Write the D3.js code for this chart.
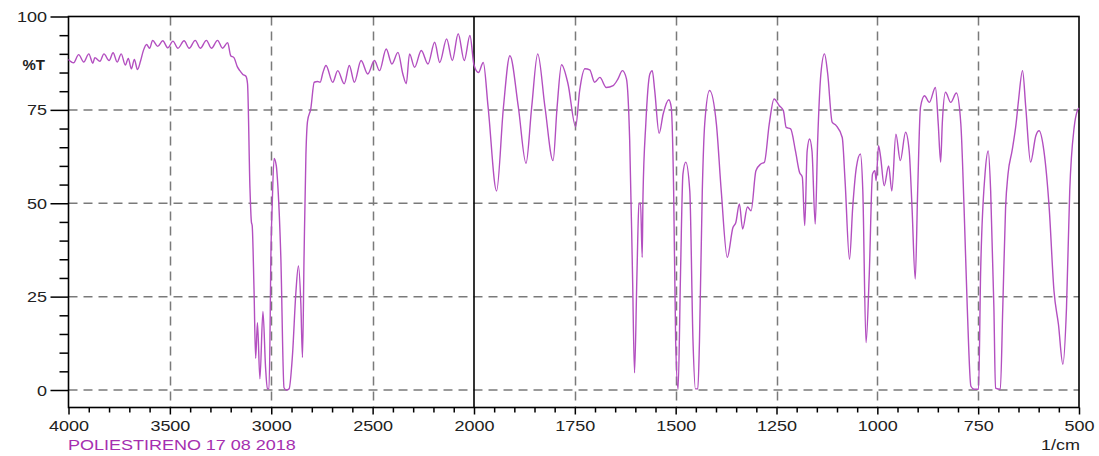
<!DOCTYPE html>
<html><head><meta charset="utf-8">
<script src="https://cdn.jsdelivr.net/npm/d3@7"></script>
<style>
html,body{margin:0;padding:0;background:#fff;}
svg{display:block;}
text{font-family:"Liberation Sans",Arial,sans-serif;}
</style></head><body>
<svg id="c" width="1099" height="456"></svg>
<script>
// wavenumber (1/cm), descending
const wavenumber = [
4000,3975,3950,3925,3900,3880,3870,3845,3825,3800,3780,3760,3740,3720,3705,3690,3675,3660,3645,3630,3615,3600,3585,3560,3535,3510,3485,3460,3430,3405,3375,3350,3320,3295,3265,3240,3215,3200,3184,3167,3155,3140,3125,3117,
3105,3098,3094,3085,3077,3068,3056,3041,3028,3019,3011,3005,3003,2995,2986,2975,2969,2953,2937,2925,2912,2895,2879,2866,2854,2846,2838,2829,2821,2805,2788,2771,2759,2745,2730,2697,2672,2640,2615,2590,2557,2524,2491,2466,2433,2405,2375,2351,2334,2318,2293,2260,2227,2194,2169,2135,2107,2078,2048,2020,2000,
1989,1977,1965,1944,1927,1911,1890,1871,1857,1842,1824,1804,1794,1783,1767,1748,1738,1725,1713,1701,1688,1672,1655,1643,1632,1622,1614,1607,1602,1596,1591,1587,1583,1581,1574,1564,1558,1552,1541,1531,1517,1511,1505,1500,1494,1488,1482,1475,1465,1457,1451,1445,1441,1434,1428,1416,1399,1387,1372,1358,1351,1342,1334,1322,1313,1301,1289,1280,1268,1256,1243,1233,1226,1215,1203,1193,1186,1180,1174,1168,1162,1154,1148,1140,1131,1123,1112,1102,1087,1080,1069,1061,1052,1042,1036,1028,1020,1012,1006,1003,997,992,983,972,964,954,943,930,921,914,906,900,893,883,871,856,849,843,839,831,818,804,793,785,777,768,760,749,744,733,725,719,711,707,695,689,682,676,666,656,650,640,632,620,607,599,587,574,562,551,540,531,523,512,504,500
];
// transmittance (%T)
const transmittance = [
88.5,87.6,89.8,87.8,90,87.5,89,88,90,88.2,90.3,87.8,90,87,88.8,86,88.5,85.8,88,91,92.5,91.5,93.6,92,93.5,91.6,93.4,91.5,93.5,91.5,93.6,91.5,93.6,91.5,93.6,91.5,93,89.5,89,86.5,85.5,84.5,84,82,
54,45,44,27,8.5,18,3,21,6,0.3,0.3,20,31,50,62,60,56,36,0.6,0,0.3,9.6,25.7,33.2,23,8.7,36.4,63,72,75.3,82.4,82.6,82.4,85,86.9,82.4,85.5,82,86.9,82.4,88.2,84.6,88.2,85.5,91.3,87.3,90.4,84.6,82,90,86.4,90.9,87.3,93.1,87.7,94,88.2,95.4,88.2,94.9,87,
85,87.7,75.7,53.3,75.7,89.5,75.7,60.7,75.7,90,75.7,61.4,75.7,87.1,82,70.5,80.2,86,85.7,82.4,83.7,81,81.5,83.3,85.5,83.3,66.8,31,4.6,31,49.8,50,35.5,52,71.3,84.6,85.5,80.2,68.7,73.9,77.7,75.7,53.3,13,0.2,31,57.8,61,53.3,13,0.3,0.3,13,53.3,71.2,80.2,71.2,53.3,35.5,43.5,44.8,49.8,43.1,49,48,58.7,60.5,61,71.2,77.9,76.1,74.8,70.3,69.9,64,58.3,57,44,64,67.2,64,44.4,66.5,84.6,90,84.6,71.7,70.8,67.6,56,35,49,59.6,63.2,53.3,12.7,31,57.8,58.7,56,65.4,62.5,54.7,60,53.3,68.5,61.4,69,64,48.9,29.7,53.3,75.7,78.8,77,81,71.3,61,71.3,79.7,77,79.5,71.3,48.9,22,1,0.2,0.2,31,57.8,64,53.3,22,0.5,0.2,22,48.9,57.8,64,71.3,77.5,85.5,75.7,61,68.1,69.4,64,48.9,26.5,17.6,6.9,22,53.3,70.3,74.8,75.5
];
const xMajorTicks = [4000,3500,3000,2500,2000,1750,1500,1250,1000,750,500];
const xGridTicks = [3500,3000,2500,1750,1500,1250,1000,750];
const yMajorTicks = [0,25,50,75,100];
const yGridTicks = [0,25,50,75];
const yAxisLabel = "%T";
const xAxisLabel = "1/cm";
const sampleLabel = "POLIESTIRENO 17 08 2018";

const L=68.5, R=1079, T=16.5, B=407.5;
const x = d3.scaleLinear().domain([4000,2000,500]).range([L,474,R]);
const y = d3.scaleLinear().domain([0,100]).range([390,T]);
const svg = d3.select("#c");
const SX = 1.2;

// grid
const grid = svg.append("g").attr("stroke","#7a7a7a").attr("stroke-width",1.5).attr("stroke-dasharray","9,6");
grid.selectAll("line.v").data(xGridTicks).join("line").attr("class","v")
  .attr("x1",d=>Math.round(x(d))+0.5).attr("x2",d=>Math.round(x(d))+0.5).attr("y1",T).attr("y2",B);
grid.selectAll("line.h").data(yGridTicks).join("line").attr("class","h")
  .attr("x1",L).attr("x2",R).attr("y1",d=>y(d)).attr("y2",d=>y(d));

// minor ticks
const xMinor = d3.range(3900,2000,-100).concat(d3.range(1950,500,-50)).filter(v=>!xMajorTicks.includes(v));
const yMinor = d3.range(5,100,5).filter(v=>!yMajorTicks.includes(v));

const xAxisMinor = svg.append("g").attr("transform",`translate(0,${B})`)
  .call(d3.axisBottom(x).tickValues(xMinor).tickSize(5).tickFormat(""));
xAxisMinor.select(".domain").remove();
const xAxis = svg.append("g").attr("transform",`translate(0,${B})`)
  .call(d3.axisBottom(x).tickValues(xMajorTicks).tickSize(7).tickFormat(d3.format("d")));
xAxis.select(".domain").remove();
xAxis.selectAll("text").attr("y",24).attr("dy",0).attr("font-size",15).attr("fill","#222")
  .attr("transform",`scale(${SX},1)`);
svg.selectAll(".tick line").attr("stroke","#000").attr("stroke-width",1.5);

const yAxisMinor = svg.append("g").attr("transform",`translate(${L},0)`)
  .call(d3.axisLeft(y).tickValues(yMinor).tickSize(9).tickFormat(""));
yAxisMinor.select(".domain").remove();
const yAxis = svg.append("g").attr("transform",`translate(${L},0)`)
  .call(d3.axisLeft(y).tickValues(yMajorTicks).tickSize(18).tickFormat(d3.format("d")));
yAxis.select(".domain").remove();
yAxis.selectAll("text").attr("x",-21.5/SX).attr("dy","0.34em").attr("font-size",15).attr("fill","#222")
  .attr("transform",`scale(${SX},1)`);
svg.selectAll(".tick line").attr("stroke","#000").attr("stroke-width",1.5);

// frame
svg.append("rect").attr("x",L).attr("y",T).attr("width",R-L).attr("height",B-T)
  .attr("fill","none").attr("stroke","#000").attr("stroke-width",1.6);
svg.append("line").attr("x1",x(2000)).attr("x2",x(2000)).attr("y1",T).attr("y2",B)
  .attr("stroke","#000").attr("stroke-width",1.6);

// spectrum
const pts = wavenumber.map((w,i)=>[w,transmittance[i]]);
const line = d3.line().x(d=>x(d[0])).y(d=>y(d[1])).curve(d3.curveMonotoneX);
svg.append("path").datum(pts).attr("d",line).attr("fill","none")
  .attr("stroke","#b34fc0").attr("stroke-width",1.4).attr("stroke-linejoin","round");

// labels
svg.append("text").attr("x",22.5).attr("y",70).attr("font-size",15).attr("font-weight","bold")
  .attr("fill","#222").text(yAxisLabel);
svg.append("text").attr("transform",`translate(1080,450) scale(${SX},1)`).attr("text-anchor","end")
  .attr("font-size",15).attr("fill","#222").text(xAxisLabel);
svg.append("text").attr("transform",`translate(68,450) scale(${SX},1)`)
  .attr("font-size",15).attr("fill","#a52fb0").text(sampleLabel);
</script>
</body></html>
